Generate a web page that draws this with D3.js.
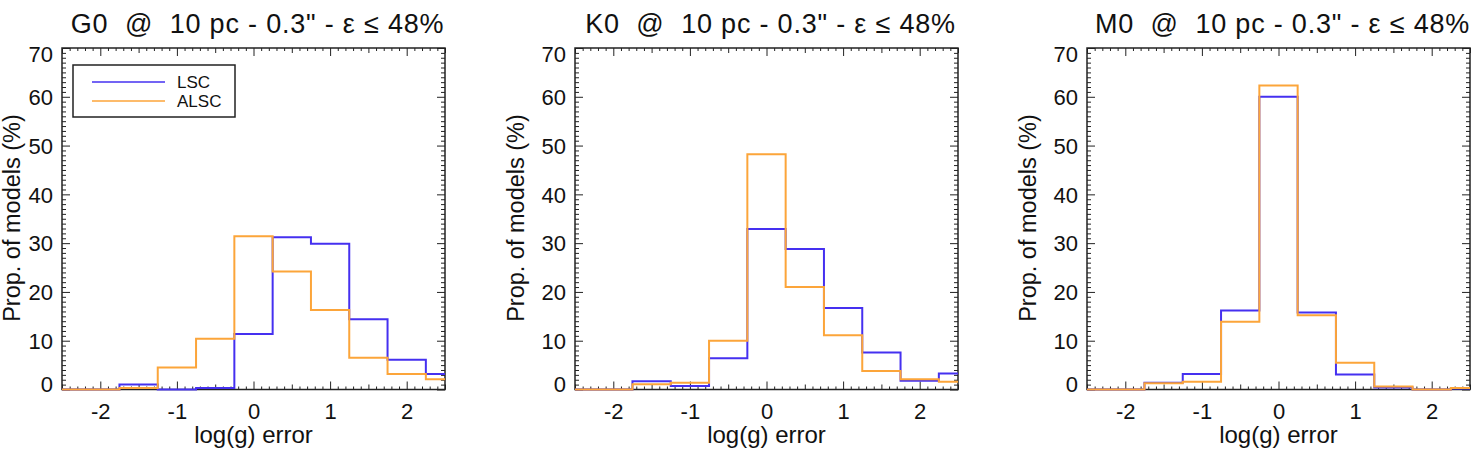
<!DOCTYPE html>
<html>
<head>
<meta charset="utf-8">
<script src="https://cdn.jsdelivr.net/npm/d3@7"></script>
<style>
  body { margin: 0; background: #fff; }
  svg { display: block; font-family: "Liberation Sans", Arial, Helvetica, sans-serif; }
  .tick line { stroke: #222; }
</style>
</head>
<body>
<div id="chart"></div>
<script>
// Tâm các bin (độ rộng 0.5)
const binCenters = [-2.5, -2, -1.5, -1, -0.5, 0, 0.5, 1, 1.5, 2, 2.5];
const binWidth = 0.5;

// Giá trị (%)
const g0LSC  = [0, 0, 1.0, 0, 0.3, 11.4, 31.2, 29.9, 14.4, 6.1, 3.2];
const g0ALSC = [0, 0, 0.3, 4.5, 10.4, 31.4, 24.2, 16.3, 6.5, 3.2, 2.1];
const k0LSC  = [0, 0, 1.7, 0.7, 6.4, 32.9, 28.8, 16.7, 7.6, 1.8, 3.3];
const k0ALSC = [0, 0, 1.1, 1.4, 10.0, 48.2, 21.0, 11.1, 3.8, 2.1, 1.6];
const m0LSC  = [0, 0, 1.4, 3.2, 16.2, 60.0, 15.8, 3.1, 0.4, 0, 0.2];
const m0ALSC = [0, 0, 1.3, 1.6, 13.9, 62.3, 15.2, 5.5, 0.6, 0, 0.3];

const panelNames = ["G0", "K0", "M0"];
const xTicks = [-2, -1, 0, 1, 2];
const yTicks = [0, 10, 20, 30, 40, 50, 60, 70];
const seriesNames = ["LSC", "ALSC"];

const colors = { LSC: "#4530f0", ALSC: "#fca53a" };

const panels = [
    { name: panelNames[0], lsc: g0LSC, alsc: g0ALSC, left: 62, labelX: 12 },
    { name: panelNames[1], lsc: k0LSC, alsc: k0ALSC, left: 575, labelX: 516 },
    { name: panelNames[2], lsc: m0LSC, alsc: m0ALSC, left: 1087, labelX: 1028 }
];

const width = 1475, height = 452;
const plotW = 383, plotTop = 48, plotBottom = 389.5;

const svg = d3.select("#chart")
    .append("svg")
    .attr("width", width)
    .attr("height", height);

const drawPanel = (p) => {
    const x = d3.scaleLinear().domain([-2.5, 2.5]).range([p.left, p.left + plotW]);
    const y = d3.scaleLinear().domain([0, 70]).range([plotBottom, plotTop]);
    const g = svg.append("g");

    // Vạch chia phụ
    const xMinor = d3.range(-25, 26).map(d => d / 10).filter(d => Math.abs(d * 2 - Math.round(d * 2)) > 1e-6);
    const xHalf = [-2.5, -1.5, -0.5, 0.5, 1.5, 2.5];
    const yMinor = d3.range(0, 71).filter(d => d % 10 !== 0);

    const addAxis = (axis, transform, cls) => {
        const a = g.append("g").attr("class", cls).attr("transform", transform).call(axis);
        a.select(".domain").remove();
        a.selectAll(".tick line").attr("stroke", "#222").attr("stroke-width", 1);
        return a;
    };

    // Trục dưới (dùng dấu gạch ngang thường như ảnh gốc)
    const xb = addAxis(d3.axisBottom(x).tickValues(xTicks).tickSize(-8).tickPadding(14).tickFormat(d => String(d)),
        `translate(0,${plotBottom})`, "xaxis");
    xb.selectAll("text").attr("font-size", 22).attr("fill", "#111").attr("dy", "0.7em");
    addAxis(d3.axisBottom(x).tickValues(xMinor).tickSize(-3).tickFormat(""), `translate(0,${plotBottom})`, "minor");
    addAxis(d3.axisBottom(x).tickValues(xHalf).tickSize(-5).tickFormat(""), `translate(0,${plotBottom})`, "minor");
    // Trục trên
    addAxis(d3.axisTop(x).tickValues(xTicks).tickSize(-8).tickFormat(""), `translate(0,${plotTop})`, "minor");
    addAxis(d3.axisTop(x).tickValues(xMinor).tickSize(-3).tickFormat(""), `translate(0,${plotTop})`, "minor");
    addAxis(d3.axisTop(x).tickValues(xHalf).tickSize(-5).tickFormat(""), `translate(0,${plotTop})`, "minor");

    // Trục trái
    const yl = addAxis(d3.axisLeft(y).tickValues(yTicks).tickSize(-8).tickPadding(9).tickFormat(d => String(d)),
        `translate(${p.left},0)`, "yaxis");
    yl.selectAll("text")
        .attr("font-size", 22)
        .attr("fill", "#111")
        .attr("dy", d => d === 70 ? "0.62em" : d === 0 ? "0.08em" : "0.35em");
    addAxis(d3.axisLeft(y).tickValues(yMinor).tickSize(-4).tickFormat(""), `translate(${p.left},0)`, "minor");
    // Trục phải
    addAxis(d3.axisRight(y).tickValues(yTicks).tickSize(-8).tickFormat(""), `translate(${p.left + plotW},0)`, "minor");
    addAxis(d3.axisRight(y).tickValues(yMinor).tickSize(-4).tickFormat(""), `translate(${p.left + plotW},0)`, "minor");

    // Khung
    g.append("rect")
        .attr("x", p.left)
        .attr("y", plotTop)
        .attr("width", plotW)
        .attr("height", plotBottom - plotTop)
        .attr("fill", "none")
        .attr("stroke", "#222")
        .attr("stroke-width", 1.5);

    // Đường histogram dạng bậc thang
    const stepPoints = vals => {
        const pts = [];
        binCenters.forEach((c, k) => {
            pts.push([Math.max(c - binWidth / 2, -2.5), vals[k]]);
            pts.push([Math.min(c + binWidth / 2, 2.5), vals[k]]);
        });
        return pts;
    };
    const line = d3.line().x(d => x(d[0])).y(d => y(d[1]));

    g.append("path")
        .attr("d", line(stepPoints(p.lsc)))
        .attr("fill", "none")
        .attr("stroke", colors.LSC)
        .attr("stroke-width", 2);
    g.append("path")
        .attr("d", line(stepPoints(p.alsc)))
        .attr("fill", "none")
        .attr("stroke", colors.ALSC)
        .attr("stroke-width", 2);

    // Tiêu đề
    g.append("text")
        .attr("x", p.left + plotW / 2 + 4)
        .attr("y", 33)
        .attr("text-anchor", "middle")
        .attr("font-size", 27)
        .attr("letter-spacing", 0.8)
        .attr("fill", "#111")
        .style("white-space", "pre")
        .text(`${p.name}  @  10 pc - 0.3" - \u03b5 \u2264 48%`);

    // Nhãn trục
    g.append("text")
        .attr("x", p.left + plotW / 2)
        .attr("y", 443)
        .attr("text-anchor", "middle")
        .attr("font-size", 24)
        .attr("fill", "#111")
        .text("log(g) error");

    g.append("text")
        .attr("transform", `translate(${p.labelX}, 218) rotate(-90)`)
        .attr("dy", "0.32em")
        .attr("text-anchor", "middle")
        .attr("font-size", 23.5)
        .attr("fill", "#111")
        .text("Prop. of models (%)");
};

panels.forEach(drawPanel);

// Chú thích (chỉ ở panel đầu)
const legend = svg.append("g").attr("class", "legend");
legend.append("rect")
    .attr("x", 73)
    .attr("y", 65)
    .attr("width", 162)
    .attr("height", 52)
    .attr("fill", "#fff")
    .attr("stroke", "#222")
    .attr("stroke-width", 1.5);

seriesNames.forEach((s, k) => {
    const ly = 82 + k * 19;
    legend.append("line")
        .attr("x1", 92)
        .attr("x2", 165)
        .attr("y1", ly)
        .attr("y2", ly)
        .attr("stroke", colors[s])
        .attr("stroke-width", 1.5);
    legend.append("text")
        .attr("x", 177)
        .attr("y", ly)
        .attr("dy", "0.36em")
        .attr("font-size", 17)
        .attr("fill", "#111")
        .text(s);
});
</script>
</body>
</html>
